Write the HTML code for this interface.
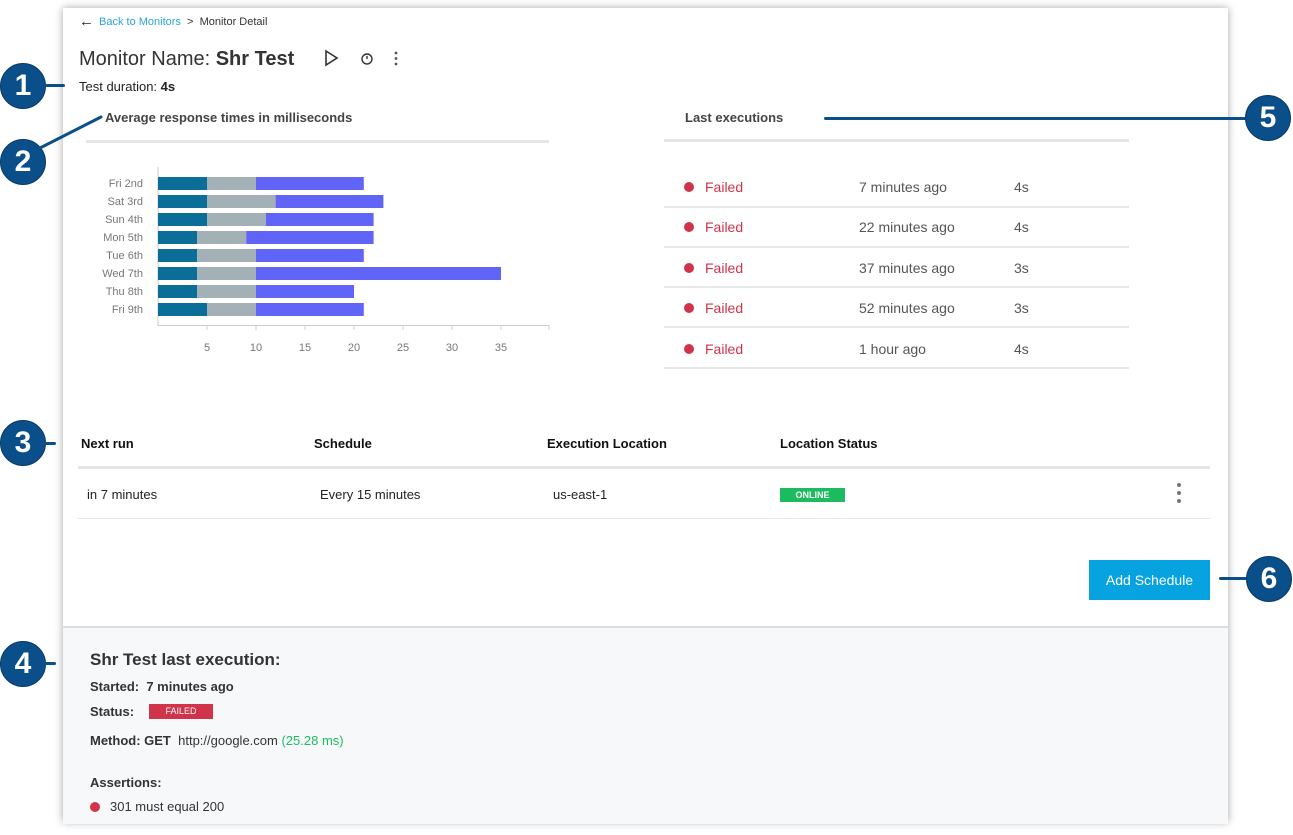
<!DOCTYPE html><html><head><style>
body{margin:0;width:1293px;height:835px;background:#fff;position:relative;overflow:hidden;font-family:"Liberation Sans",sans-serif;}
.a{position:absolute;white-space:nowrap}
.card{position:absolute;left:63px;top:8px;width:1165px;height:814px;background:#fff;box-shadow:0 0 8px rgba(0,0,0,.35);}
.gray{position:absolute;left:63px;top:626px;width:1165px;height:196px;background:#f7f8fa;border-top:2px solid #ddd;}
.c{position:absolute;width:44px;height:44px;border-radius:50%;background:#0b4f8a;color:#fff;font-weight:bold;font-size:30px;text-align:center;line-height:44px;border:1px solid #083b6a;}
.ln{position:absolute;background:#0b4f8a;height:3px;border-radius:2px}
.hr{position:absolute;background:#e6e6e6;height:3px}
.hr1{position:absolute;background:#e8e8e8;height:2px}
.f{color:#d0334a;font-size:14px}
.dot{position:absolute;width:10px;height:10px;border-radius:50%;background:#d0334a}
.t{color:#555;font-size:14px}
</style></head><body>
<div class="card"></div>
<div class="gray"></div>
<div class="a" style="left:79px;top:13px;font-size:15px;color:#222">&#8592;</div>
<div class="a" style="left:99px;top:16px;font-size:11px;color:#2aa3dc">Back to Monitors <span style="color:#333">&nbsp;&gt;&nbsp; Monitor Detail</span></div>
<div class="a" style="left:79px;top:48px;font-size:20px;color:#333">Monitor Name: <b>Shr Test</b></div>
<svg class="a" style="left:320px;top:48px" width="90" height="22"><path d="M6 3 L17 10 L6 17 Z" fill="none" stroke="#333" stroke-width="1.6"/><circle cx="47" cy="11" r="5" fill="none" stroke="#333" stroke-width="1.4"/><line x1="47" y1="11" x2="47" y2="8" stroke="#333" stroke-width="1.4"/><circle cx="76" cy="5" r="1.4" fill="#555"/><circle cx="76" cy="10.5" r="1.4" fill="#555"/><circle cx="76" cy="16" r="1.4" fill="#555"/></svg>
<div class="a" style="left:79px;top:79px;font-size:13px;color:#222">Test duration: <b>4s</b></div>
<div class="a" style="left:105px;top:110px;font-size:13px;font-weight:bold;color:#444">Average response times in milliseconds</div>
<div class="hr" style="left:86px;top:140px;width:463px"></div>
<svg class="a" style="left:90px;top:165px" width="470" height="200">
<g font-size="11" fill="#777" text-anchor="end">
<text x="53" y="22">Fri 2nd</text><text x="53" y="40">Sat 3rd</text><text x="53" y="58">Sun 4th</text><text x="53" y="76">Mon 5th</text><text x="53" y="94">Tue 6th</text><text x="53" y="112">Wed 7th</text><text x="53" y="130">Thu 8th</text><text x="53" y="148">Fri 9th</text></g>
<line x1="68" y1="2" x2="68" y2="161" stroke="#ccc"/><line x1="68" y1="160.5" x2="459" y2="160.5" stroke="#ccc"/>
<g stroke="#ccc"><line x1="117" y1="160" x2="117" y2="165"/><line x1="166" y1="160" x2="166" y2="165"/><line x1="215" y1="160" x2="215" y2="165"/><line x1="264" y1="160" x2="264" y2="165"/><line x1="313" y1="160" x2="313" y2="165"/><line x1="362" y1="160" x2="362" y2="165"/><line x1="411" y1="160" x2="411" y2="165"/><line x1="459" y1="160" x2="459" y2="165"/></g>
<g font-size="11" fill="#777" text-anchor="middle"><text x="117" y="186">5</text><text x="166" y="186">10</text><text x="215" y="186">15</text><text x="264" y="186">20</text><text x="313" y="186">25</text><text x="362" y="186">30</text><text x="411" y="186">35</text></g>
<g id="bars"></g>
</svg>
<script>
var d=[[5,10,21],[5,12,23],[5,11,22],[4,9,22],[4,10,21],[4,10,35],[4,10,20],[5,10,21]],s='',cols=['#0b6e99','#a3b1b6','#6065f7'];
d.forEach(function(r,i){var p=0;r.forEach(function(v,j){s+='<rect x="'+(68+p*9.8)+'" y="'+(12+18*i)+'" width="'+((v-p)*9.8)+'" height="13" fill="'+cols[j]+'"/>';p=v;});});
document.getElementById('bars').innerHTML=s;
</script>
<div class="a" style="left:685px;top:110px;font-size:13px;font-weight:bold;color:#444">Last executions</div>
<div class="hr" style="left:664px;top:139px;width:465px"></div>
<div class="dot" style="left:684px;top:182px"></div><div class="a f" style="left:705px;top:179px">Failed</div><div class="a t" style="left:859px;top:179px">7 minutes ago</div><div class="a t" style="left:1014px;top:179px">4s</div>
<div class="hr1" style="left:664px;top:206px;width:465px"></div>
<div class="dot" style="left:684px;top:222px"></div><div class="a f" style="left:705px;top:219px">Failed</div><div class="a t" style="left:859px;top:219px">22 minutes ago</div><div class="a t" style="left:1014px;top:219px">4s</div>
<div class="hr1" style="left:664px;top:246px;width:465px"></div>
<div class="dot" style="left:684px;top:263px"></div><div class="a f" style="left:705px;top:260px">Failed</div><div class="a t" style="left:859px;top:260px">37 minutes ago</div><div class="a t" style="left:1014px;top:260px">3s</div>
<div class="hr1" style="left:664px;top:286px;width:465px"></div>
<div class="dot" style="left:684px;top:303px"></div><div class="a f" style="left:705px;top:300px">Failed</div><div class="a t" style="left:859px;top:300px">52 minutes ago</div><div class="a t" style="left:1014px;top:300px">3s</div>
<div class="hr1" style="left:664px;top:326px;width:465px"></div>
<div class="dot" style="left:684px;top:344px"></div><div class="a f" style="left:705px;top:341px">Failed</div><div class="a t" style="left:859px;top:341px">1 hour ago</div><div class="a t" style="left:1014px;top:341px">4s</div>
<div class="hr1" style="left:664px;top:367px;width:465px"></div>
<div class="a" style="left:81px;top:436px;font-size:13px;font-weight:bold;color:#111">Next run</div>
<div class="a" style="left:314px;top:436px;font-size:13px;font-weight:bold;color:#111">Schedule</div>
<div class="a" style="left:547px;top:436px;font-size:13px;font-weight:bold;color:#111">Execution Location</div>
<div class="a" style="left:780px;top:436px;font-size:13px;font-weight:bold;color:#111">Location Status</div>
<div class="hr" style="left:78px;top:466px;width:1132px"></div>
<div class="a" style="left:87px;top:487px;font-size:13px;color:#222">in 7 minutes</div>
<div class="a" style="left:320px;top:487px;font-size:13px;color:#222">Every 15 minutes</div>
<div class="a" style="left:553px;top:487px;font-size:13px;color:#222">us-east-1</div>
<div class="a" style="left:780px;top:488px;width:65px;height:14px;background:#1dbb60;color:#fff;font-size:9px;font-weight:bold;text-align:center;line-height:14px">ONLINE</div>
<svg class="a" style="left:1174px;top:481px" width="10" height="26"><circle cx="5" cy="4" r="2" fill="#777"/><circle cx="5" cy="12" r="2" fill="#777"/><circle cx="5" cy="20" r="2" fill="#777"/></svg>
<div class="hr1" style="left:78px;top:518px;width:1132px;height:1px"></div>
<div class="a" style="left:1089px;top:560px;width:121px;height:40px;background:#07a2e0;color:#fff;font-size:14px;text-align:center;line-height:40px">Add Schedule</div>
<div class="a" style="left:90px;top:650px;font-size:17px;font-weight:bold;color:#333">Shr Test last execution:</div>
<div class="a" style="left:90px;top:679px;font-size:13px;font-weight:bold;color:#333">Started:&nbsp; 7 minutes ago</div>
<div class="a" style="left:90px;top:704px;font-size:13px;font-weight:bold;color:#333">Status:</div>
<div class="a" style="left:149px;top:704px;width:64px;height:15px;background:#d0334a;color:#fff;font-size:9px;text-align:center;line-height:15px">FAILED</div>
<div class="a" style="left:90px;top:733px;font-size:13px;color:#333"><b>Method: GET</b>&nbsp; http://google.com <span style="color:#1dbb60">(25.28 ms)</span></div>
<div class="a" style="left:90px;top:775px;font-size:13px;font-weight:bold;color:#333">Assertions:</div>
<div class="dot" style="left:90px;top:802px"></div>
<div class="a" style="left:110px;top:799px;font-size:13px;color:#333">301 must equal 200</div>
<div class="c" style="left:0px;top:63px">1</div><div class="ln" style="left:40px;top:84px;width:25px"></div>
<div class="c" style="left:0px;top:139px">2</div>
<svg class="a" style="left:35px;top:113px" width="70" height="40"><line x1="3" y1="36" x2="66" y2="4" stroke="#0b4f8a" stroke-width="3" stroke-linecap="round"/></svg>
<div class="c" style="left:0px;top:420px">3</div><div class="ln" style="left:40px;top:442px;width:16px"></div>
<div class="c" style="left:0px;top:641px">4</div><div class="ln" style="left:40px;top:662px;width:16px"></div>
<div class="ln" style="left:824px;top:117px;width:425px"></div><div class="c" style="left:1245px;top:95px">5</div>
<div class="ln" style="left:1219px;top:577px;width:30px"></div><div class="c" style="left:1246px;top:556px">6</div>
</body></html>
